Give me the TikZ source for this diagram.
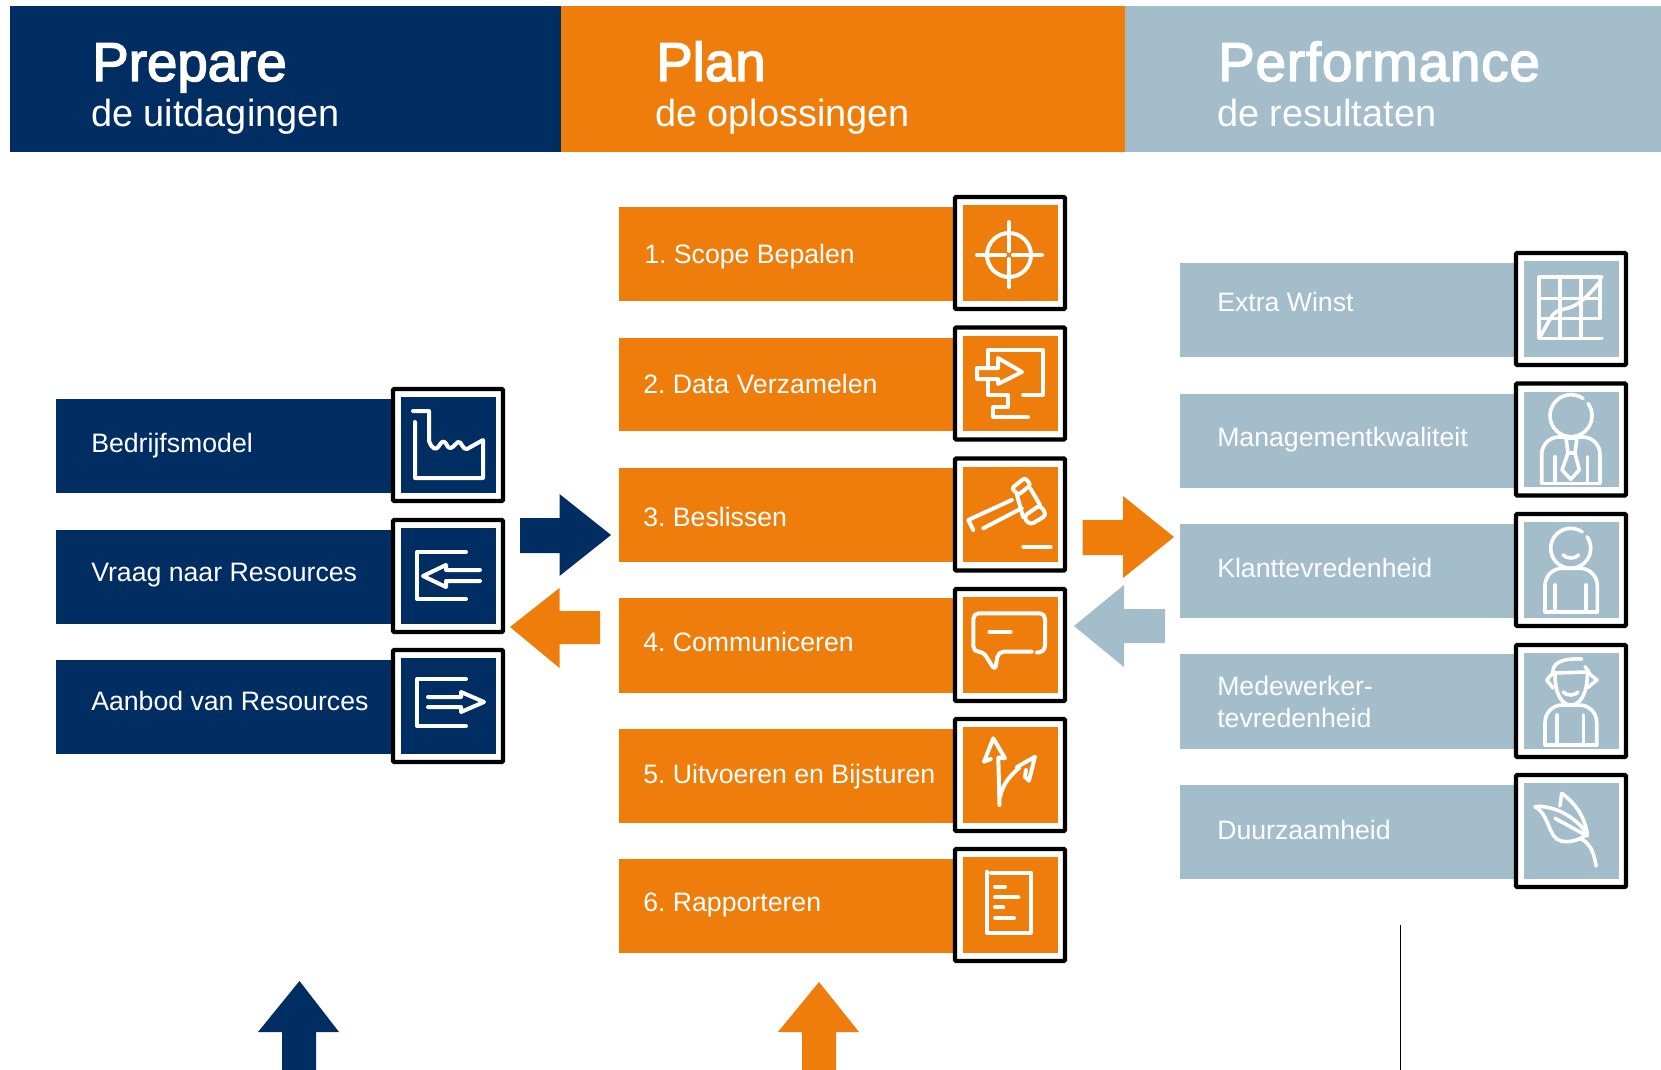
\documentclass[tikz,border=0pt]{standalone}
\usepackage{fontspec}
\setmainfont{Liberation Sans}
\frenchspacing
\definecolor{navy}{HTML}{002D62}
\definecolor{orng}{HTML}{EF7D0B}
\definecolor{bgrey}{HTML}{A3BDCB}
\newcommand\heavy[1]{\special{pdf:code 2 Tr 1.1 w 1 1 1 RG}#1\special{pdf:code 0 Tr}}
\newcommand\hdr[7]{%
  \fill[#1] (#2,6) rectangle (#3,152);
  \node[title] (#4) at (#5,81) {\heavy{#6}};
  \node[subtitle] (#4sub) at (#5-1,127) {#7};}
\newcommand\iconbox[3]{% colour, frame x1, y1
  \fill[white,draw=black,line width=3.2pt,rounded corners=0.8pt] (#2+2,#3+2) rectangle (#2+112,#3+114);
  \fill[#1] (#2+9.5,#3+10) rectangle (#2+104.5,#3+105.5);}
\tikzset{
  title/.style={anchor=base west,inner sep=0pt,text=white,font=\fontsize{41}{41}\selectfont},
  subtitle/.style={anchor=base west,inner sep=0pt,text=white,font=\fontsize{28.4}{30}\selectfont},
  label/.style={anchor=base west,inner sep=0pt,text=white,font=\fontsize{20}{24}\selectfont},
  icon/.style={draw=white,line width=3pt,line cap=round,line join=round},
  thin icon/.style={icon,line width=2.7pt}
}
\begin{document}
\begin{tikzpicture}[x=0.75pt,y=-0.75pt]
\useasboundingbox (0,0) rectangle (1661,1070);
\fill[white] (0,0) rectangle (1661,1070);
% header
\hdr{navy}{10}{561}{prep}{92}{Prepare}{de uitdagingen}
\hdr{orng}{561}{1125}{plan}{656}{Plan}{de oplossingen}
\hdr{bgrey}{1125}{1661}{perf}{1218}{\addfontfeature{LetterSpace=1.6}Performance}{de resultaten}
% left column
\fill[navy] (56,399) rectangle (395,493);
\fill[navy] (56,530) rectangle (395,624);
\fill[navy] (56,660) rectangle (395,754);
\iconbox{navy}{391}{387}
\iconbox{navy}{391}{518}
\iconbox{navy}{391}{648}
\node[label] (l1) at (91,452) {Bedrijfsmodel};
\node[label] (l2) at (91,581.5) {Vraag naar Resources};
\node[label] (l3) at (91,710) {Aanbod van Resources};
% centre column
\foreach \a/\b in {207/301,338/431,468/562,598/693,729/823,859/953}
  {\fill[orng] (619,\a) rectangle (957,\b);}
\foreach \y in {195,325.5,456.5,587,717,847}
  {\iconbox{orng}{953}{\y}}
\node[label] (c1) at (644,263) {1. Scope Bepalen};
\node[label] (c2) at (643,393) {2. Data Verzamelen};
\node[label] (c3) at (643,526) {3. Beslissen};
\node[label] (c4) at (643,651.5) {4. Communiceren};
\node[label] (c5) at (643,783) {5. Uitvoeren en Bijsturen};
\node[label] (c6) at (643,911) {6. Rapporteren};
% right column
\foreach \a/\b in {263/357,394/488,524/618,654/749,785/879}
  {\fill[bgrey] (1180,\a) rectangle (1518,\b);}
\foreach \y in {251,381.5,512,643,773}
  {\iconbox{bgrey}{1514}{\y}}
\node[label] (r1) at (1217,311) {Extra Winst};
\node[label] (r2) at (1217,446) {Managementkwaliteit};
\node[label] (r3) at (1217,577) {Klanttevredenheid};
\node[label] (r4) at (1217,695) {Medewerker-};
\node[label] (r4b) at (1217,727) {tevredenheid};
\node[label] (r5) at (1217,839) {Duurzaamheid};
% block arrows
\fill[navy] (520,518)--(559.5,518)--(559.5,494)--(611,535)--(559.5,576)--(559.5,553)--(520,553)--cycle;
\fill[orng] (600,611)--(559.5,611)--(559.5,588)--(510,627)--(559.5,668)--(559.5,644)--(600,644)--cycle;
\fill[orng] (1082.5,520)--(1123,520)--(1123,496)--(1174,537)--(1123,578)--(1123,555)--(1082.5,555)--cycle;
\fill[bgrey] (1165,609)--(1124,609)--(1124,585)--(1074,626)--(1124,667)--(1124,643)--(1165,643)--cycle;
\fill[navy] (282,1070)--(282,1032)--(258,1032)--(299.5,981)--(339,1032)--(316,1032)--(316,1070)--cycle;
\fill[orng] (802,1070)--(802,1032)--(778,1032)--(819,982)--(859,1032)--(836,1032)--(836,1070)--cycle;
\coordinate (lt) at (1400.5,925);
\coordinate (lb) at (1400.5,1070);
\draw[black,line width=1.4pt] (lt)--(lb);
% --- icons left
\draw[icon] (413,411)--(429,411)--(429,441) .. controls (432,449) and (436,451) .. (439,446) .. controls (443,439) and (445,441) .. (448,447) .. controls (451,451) and (455,444) .. (458,442) .. controls (461,440) and (463,451) .. (467,449) -- (483,440)--(483,478)--(415,478)--(415,422);
\draw[icon] (466,552)--(417,552)--(417,599)--(466,599);
\draw[icon] (480,570)--(446,570)--(446,565)--(423,576)--(446,587)--(446,581)--(480,581);
\draw[icon] (466,679)--(417,679)--(417,726)--(466,726);
\draw[icon] (428,697)--(461,697)--(461,692)--(484,702)--(461,712)--(461,707)--(428,707);
% --- icons centre
\draw[icon] (1009,255) ++(-45:22) arc (-45:-400:22);
\draw[icon] (977,255)--(1005,255) (1013,255)--(1042,255) (1009,222)--(1009,251) (1009,259)--(1009,287);
\draw[icon] (988,365)--(988,350)--(1043,350)--(1043,395)--(1023,395);
\draw[icon] (977,368)--(998,368)--(998,358)--(1022,372)--(998,384)--(998,379)--(977,379)--cycle;
\draw[icon] (988,379)--(988,395)--(1008,395)--(1008,407)--(993,407)--(993,417)--(1028,417);
\draw[icon,rounded corners=2pt] (1011.7,488.3)--(1025,477.7)--(1030.7,485)--(1018.3,495)--cycle;
\draw[icon,rounded corners=3pt] (1023.3,516.7)--(1040,505)--(1046.7,515)--(1030,525)--cycle;
\draw[icon] (1017,495)--(1023,517) (1030.7,489)--(1040,505);
\draw[icon] (1011.7,500)--(968.3,520)--(973.3,530) (983.3,528.3)--(1021.7,508.3);
\draw[icon] (1023.3,546.7)--(1050.7,546.7);
\draw[icon,rounded corners=4pt] (1031.7,651.7)--(998.3,651.7)--(995,670.7)--(983.3,651.7)--(973.3,651.7)--(973.3,613.3)--(1045,613.3)--(1045,651.7)--(1037,652.5);
\draw[icon] (989.3,631.7)--(1010.7,631.7);
\draw[icon] (990.7,759)--(984,761.7)--(993.3,738.3)--(1005,758.3)--(998.3,757.5)--(999.5,805);
\draw[icon] (1000,797) .. controls (1003,783) and (1011,775) .. (1019,768);
\draw[icon] (1017,767)--(1035,756.7)--(1029,780.7)--(1025,777)--(1026,770);
\draw[icon] (986.7,871.7)--(986.7,932.7)--(1030.7,932.7)--(1030.7,872.7)--(991,872.7);
\draw[icon] (995,886.7)--(1005,886.7) (995,897.3)--(1018.3,897.3) (995,907.3)--(1003.3,907.3) (995,918.3)--(1014,918.3);
% --- icons right
\draw[thin icon] (1539,277.3)--(1601.7,277.3) (1600,277.3)--(1600,318.3) (1539,298.3)--(1600,298.3) (1539,318.3)--(1600,318.3)
  (1539,277.3)--(1539,338.3)--(1601.7,338.3) (1560,277.3)--(1560,338.3) (1581,277.3)--(1581,338.3);
\draw[thin icon] (1540,336.7) .. controls (1549,322) and (1552,312) .. (1560,310) .. controls (1572,307) and (1578,308) .. (1600,281.7);
\draw[thin icon] (1571,415.7) ++(-55:21) arc (-55:-395:21);
\draw[thin icon,rounded corners=13pt] (1541.7,483.3)--(1541.7,437)--(1600,437)--(1600,483.3);
\draw[thin icon] (1541.7,483.3)--(1600,483.3);
\draw[thin icon] (1555,456.7)--(1555,481.7) (1587.3,456.7)--(1587.3,481.7);
\draw[thin icon] (1566,438)--(1568,453)--(1562,470)--(1570.7,479.3)--(1579.3,470)--(1575,453)--(1577,438)--cycle;
\draw[thin icon] (1568,453)--(1575,453);
\draw[thin icon] (1570.7,548.3) ++(-55:20) arc (-55:-395:20);
\draw[thin icon] (1563,555) .. controls (1567,559) and (1575,559) .. (1578.5,555);
\draw[thin icon,rounded corners=13pt] (1545,611.7)--(1545,568.3)--(1597.3,568.3)--(1597.3,611.7);
\draw[thin icon] (1545,611.7)--(1597.3,611.7);
\draw[thin icon] (1555,585)--(1555,610) (1586,585)--(1586,610);
\draw[thin icon] (1555,675) .. controls (1555,696) and (1563,705) .. (1570.7,705) .. controls (1579,705) and (1587,696) .. (1587.3,675);
\draw[thin icon] (1553,673)--(1587,672);
\draw[thin icon] (1553,673) .. controls (1552,664) and (1560,658) .. (1581.7,659);
\draw[thin icon] (1585,666.7)--(1589,672);
\draw[thin icon] (1553,673)--(1546.7,680)--(1553,688) (1587,672)--(1597,680)--(1587,688);
\draw[thin icon] (1563,692) .. controls (1567,696) and (1575,696) .. (1578,692);
\draw[thin icon,rounded corners=13pt] (1545,745)--(1545,705)--(1596.7,705)--(1596.7,745);
\draw[thin icon] (1545,745)--(1596.7,745);
\draw[thin icon] (1556.7,715)--(1556.7,743) (1583.3,715)--(1583.3,743);
\draw[thin icon] (1535,806.7) .. controls (1548,805) and (1572,812) .. (1587.3,834);
\draw[thin icon] (1535,806.7) .. controls (1550,815) and (1548,838) .. (1561,841) .. controls (1570,843) and (1580,840) .. (1587.3,834);
\draw[thin icon] (1555,818.3)--(1587.3,836);
\draw[thin icon] (1561.7,793.3)--(1560,806) (1561.7,793.3) .. controls (1575,803) and (1584,815) .. (1587.3,834);
\draw[thin icon] (1580,838.3) .. controls (1590,843) and (1594,852) .. (1596,866);
\end{tikzpicture}
\end{document}
